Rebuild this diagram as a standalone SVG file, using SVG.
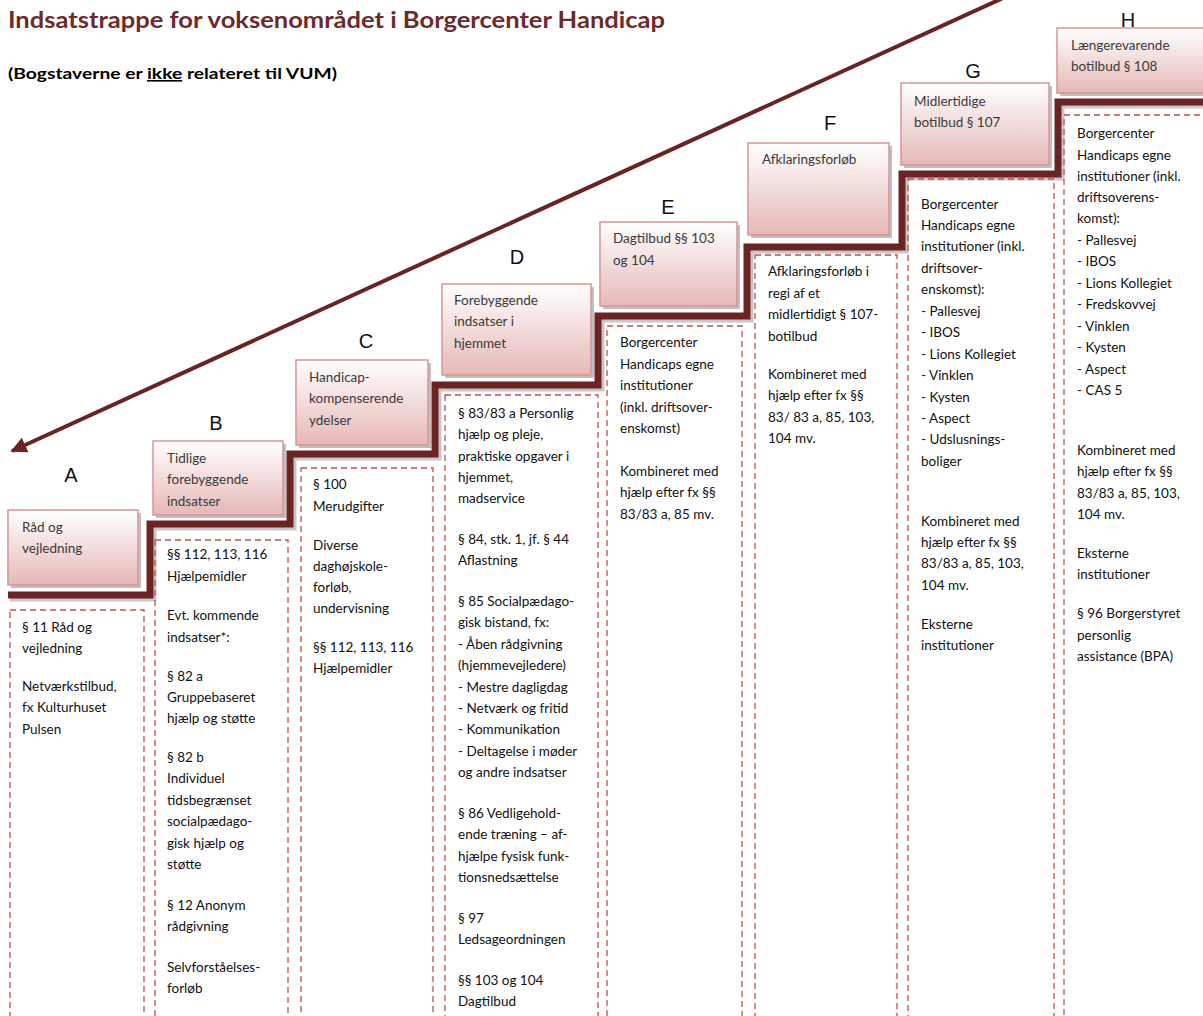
<svg xmlns="http://www.w3.org/2000/svg" width="1203" height="1016" viewBox="0 0 1203 1016">
<defs>
<linearGradient id="pink" x1="0" y1="0" x2="0" y2="1">
<stop offset="0" stop-color="#FFFFFF"/>
<stop offset="1" stop-color="#E5B8B7"/>
</linearGradient>
<marker id="arrow" viewBox="0 0 10 10" refX="9" refY="5" markerWidth="4.5" markerHeight="4" orient="auto" markerUnits="strokeWidth">
<path d="M0,0 L10,5 L0,10 Z" fill="#6B2222"/>
</marker>
<style>
.lbl{fill:url(#pink);stroke:#D99594;stroke-width:1.5}
.shadow{fill:#8c8c8c;opacity:0.55}
.det{fill:none;stroke:#C0504D;stroke-width:1.3;stroke-dasharray:6 4}
.t{font-family:Lato,"Open Sans",sans-serif;font-size:13.5px;fill:#111}
.lt{font-family:Lato,"Open Sans",sans-serif;font-size:13.5px;fill:#3a3a3a}
.letter{font-family:"Liberation Sans",Arial,sans-serif;font-size:20px;fill:#111;text-anchor:middle}
.stair{fill:none;stroke:#6B2323;stroke-width:7;stroke-linejoin:miter}
.stairsh{fill:none;stroke:#999;stroke-width:7;opacity:0.55}
</style>
</defs>
<rect width="1203" height="1016" fill="#fff"/>

<g id="title">
<text x="8" y="28" font-family="Lato,'Open Sans',sans-serif" font-size="22" font-weight="bold" fill="#70292A" textLength="657" lengthAdjust="spacingAndGlyphs">Indsatstrappe for voksenområdet i Borgercenter Handicap</text>
<text x="8" y="79" font-family="Lato,'Open Sans',sans-serif" font-size="16" font-weight="bold" fill="#000" textLength="329" lengthAdjust="spacingAndGlyphs">(Bogstaverne er <tspan text-decoration="underline">ikke</tspan> relateret til VUM)</text>
</g>

<g id="connectors">
<polyline class="stairsh" points="10,598 153,598 153,527 293,527 293,457 438,457 438,388 601,388 601,319 750,319 750,250 905,250 905,177 1061,177 1061,105 1210,105"/>
<polyline class="stair" points="8,595 150,595 150,524 290,524 290,454 435,454 435,385 598,385 598,316 747,316 747,247 902,247 902,174 1058,174 1058,102 1210,102"/>
<line x1="1003" y1="-2" x2="12" y2="451" stroke="#6B2222" stroke-width="4" marker-end="url(#arrow)"/>
</g>

<g id="step-A">
<rect class="shadow" x="11" y="513" width="130" height="75"/>
<rect class="lbl" x="8" y="510" width="130" height="75"/>
<text class="letter" x="71" y="482">A</text>
<text class="lt"><tspan x="22" y="532">Råd og</tspan><tspan x="22" y="553">vejledning</tspan></text>
<rect class="det" x="10" y="610" width="134" height="430"/>
<text class="t"><tspan x="22" y="632">§ 11 Råd og</tspan><tspan x="22" y="653">vejledning</tspan><tspan x="22" y="691">Netværkstilbud,</tspan><tspan x="22" y="712">fx Kulturhuset</tspan><tspan x="22" y="734">Pulsen</tspan></text>
</g>

<g id="step-B">
<rect class="shadow" x="156" y="444" width="130" height="74"/>
<rect class="lbl" x="153" y="441" width="130" height="74"/>
<text class="letter" x="216" y="430">B</text>
<text class="lt"><tspan x="167" y="463">Tidlige</tspan><tspan x="167" y="484">forebyggende</tspan><tspan x="167" y="506">indsatser</tspan></text>
<rect class="det" x="155" y="540" width="133" height="500"/>
<text class="t"><tspan x="167" y="559">§§ 112, 113, 116</tspan><tspan x="167" y="581">Hjælpemidler</tspan><tspan x="167" y="620">Evt. kommende</tspan><tspan x="167" y="642">indsatser*:</tspan><tspan x="167" y="681">§ 82 a</tspan><tspan x="167" y="702">Gruppebaseret</tspan><tspan x="167" y="723">hjælp og støtte</tspan><tspan x="167" y="762">§ 82 b</tspan><tspan x="167" y="783">Individuel</tspan><tspan x="167" y="805">tidsbegrænset</tspan><tspan x="167" y="826">socialpædago-</tspan><tspan x="167" y="848">gisk hjælp og</tspan><tspan x="167" y="869">støtte</tspan><tspan x="167" y="910">§ 12 Anonym</tspan><tspan x="167" y="931">rådgivning</tspan><tspan x="167" y="972">Selvforståelses-</tspan><tspan x="167" y="993">forløb</tspan></text>
</g>

<g id="step-C">
<rect class="shadow" x="299" y="363" width="132" height="85"/>
<rect class="lbl" x="296" y="360" width="132" height="85"/>
<text class="letter" x="366" y="348">C</text>
<text class="lt"><tspan x="309" y="382">Handicap-</tspan><tspan x="309" y="403">kompenserende</tspan><tspan x="309" y="425">ydelser</tspan></text>
<rect class="det" x="301" y="468" width="132" height="570"/>
<text class="t"><tspan x="313" y="489">§ 100</tspan><tspan x="313" y="511">Merudgifter</tspan><tspan x="313" y="550">Diverse</tspan><tspan x="313" y="571">daghøjskole-</tspan><tspan x="313" y="592">forløb,</tspan><tspan x="313" y="613">undervisning</tspan><tspan x="313" y="652">§§ 112, 113, 116</tspan><tspan x="313" y="673">Hjælpemidler</tspan></text>
</g>

<g id="step-D">
<rect class="shadow" x="445" y="287" width="149" height="91"/>
<rect class="lbl" x="442" y="284" width="149" height="91"/>
<text class="letter" x="517" y="264">D</text>
<text class="lt"><tspan x="454" y="305">Forebyggende</tspan><tspan x="454" y="326">indsatser i</tspan><tspan x="454" y="348">hjemmet</tspan></text>
<rect class="det" x="445" y="395" width="153" height="650"/>
<text class="t"><tspan x="458" y="418">§ 83/83 a Personlig</tspan><tspan x="458" y="439">hjælp og pleje,</tspan><tspan x="458" y="461">praktiske opgaver i</tspan><tspan x="458" y="482">hjemmet,</tspan><tspan x="458" y="503">madservice</tspan><tspan x="458" y="544">§ 84, stk. 1, jf. § 44</tspan><tspan x="458" y="565">Aflastning</tspan><tspan x="458" y="606">§ 85 Socialpædago-</tspan><tspan x="458" y="627">gisk bistand, fx:</tspan><tspan x="458" y="649">- Åben rådgivning</tspan><tspan x="458" y="670">(hjemmevejledere)</tspan><tspan x="458" y="692">- Mestre dagligdag</tspan><tspan x="458" y="713">- Netværk og fritid</tspan><tspan x="458" y="734">- Kommunikation</tspan><tspan x="458" y="756">- Deltagelse i møder</tspan><tspan x="458" y="777">og andre indsatser</tspan><tspan x="458" y="818">§ 86 Vedligehold-</tspan><tspan x="458" y="839">ende træning – af-</tspan><tspan x="458" y="861">hjælpe fysisk funk-</tspan><tspan x="458" y="882">tionsnedsættelse</tspan><tspan x="458" y="923">§ 97</tspan><tspan x="458" y="944">Ledsageordningen</tspan><tspan x="458" y="985">§§ 103 og 104</tspan><tspan x="458" y="1006">Dagtilbud</tspan></text>
</g>

<g id="step-E">
<rect class="shadow" x="603" y="225" width="137" height="84"/>
<rect class="lbl" x="600" y="222" width="137" height="84"/>
<text class="letter" x="668" y="214">E</text>
<text class="lt"><tspan x="613" y="243">Dagtilbud §§ 103</tspan><tspan x="613" y="265">og 104</tspan></text>
<rect class="det" x="607" y="326" width="135" height="720"/>
<text class="t"><tspan x="620" y="347">Borgercenter</tspan><tspan x="620" y="369">Handicaps egne</tspan><tspan x="620" y="390">institutioner</tspan><tspan x="620" y="412">(inkl. driftsover-</tspan><tspan x="620" y="433">enskomst)</tspan><tspan x="620" y="476">Kombineret med</tspan><tspan x="620" y="497">hjælp efter fx §§</tspan><tspan x="620" y="519">83/83 a, 85 mv.</tspan></text>
</g>

<g id="step-F">
<rect class="shadow" x="751" y="146" width="141" height="92"/>
<rect class="lbl" x="748" y="143" width="141" height="92"/>
<text class="letter" x="830" y="130">F</text>
<text class="lt"><tspan x="762" y="164">Afklaringsforløb</tspan></text>
<rect class="det" x="755" y="255" width="142" height="790"/>
<text class="t"><tspan x="768" y="276">Afklaringsforløb i</tspan><tspan x="768" y="298">regi af et</tspan><tspan x="768" y="319">midlertidigt § 107-</tspan><tspan x="768" y="341">botilbud</tspan><tspan x="768" y="379">Kombineret med</tspan><tspan x="768" y="400">hjælp efter fx §§</tspan><tspan x="768" y="422">83/ 83 a, 85, 103,</tspan><tspan x="768" y="443">104 mv.</tspan></text>
</g>

<g id="step-G">
<rect class="shadow" x="904" y="86" width="148" height="82"/>
<rect class="lbl" x="901" y="83" width="148" height="82"/>
<text class="letter" x="973" y="78">G</text>
<text class="lt"><tspan x="914" y="106">Midlertidige</tspan><tspan x="914" y="127">botilbud § 107</tspan></text>
<rect class="det" x="908" y="179" width="146" height="870"/>
<text class="t"><tspan x="921" y="209">Borgercenter</tspan><tspan x="921" y="230">Handicaps egne</tspan><tspan x="921" y="251">institutioner (inkl.</tspan><tspan x="921" y="273">driftsover-</tspan><tspan x="921" y="294">enskomst):</tspan><tspan x="921" y="316">- Pallesvej</tspan><tspan x="921" y="337">- IBOS</tspan><tspan x="921" y="359">- Lions Kollegiet</tspan><tspan x="921" y="380">- Vinklen</tspan><tspan x="921" y="402">- Kysten</tspan><tspan x="921" y="423">- Aspect</tspan><tspan x="921" y="444">- Udslusnings-</tspan><tspan x="921" y="466">boliger</tspan><tspan x="921" y="526">Kombineret med</tspan><tspan x="921" y="547">hjælp efter fx §§</tspan><tspan x="921" y="568">83/83 a, 85, 103,</tspan><tspan x="921" y="590">104 mv.</tspan><tspan x="921" y="629">Eksterne</tspan><tspan x="921" y="650">institutioner</tspan></text>
</g>

<g id="step-H">
<rect class="shadow" x="1060" y="31" width="150" height="65"/>
<rect class="lbl" x="1057" y="28" width="150" height="65"/>
<text class="letter" x="1128" y="27">H</text>
<text class="lt"><tspan x="1071" y="50">Længerevarende</tspan><tspan x="1071" y="71">botilbud § 108</tspan></text>
<rect class="det" x="1064" y="115" width="150" height="930"/>
<text class="t"><tspan x="1077" y="138">Borgercenter</tspan><tspan x="1077" y="160">Handicaps egne</tspan><tspan x="1077" y="181">institutioner (inkl.</tspan><tspan x="1077" y="202">driftsoverens-</tspan><tspan x="1077" y="223">komst):</tspan><tspan x="1077" y="245">- Pallesvej</tspan><tspan x="1077" y="266">- IBOS</tspan><tspan x="1077" y="288">- Lions Kollegiet</tspan><tspan x="1077" y="309">- Fredskovvej</tspan><tspan x="1077" y="331">- Vinklen</tspan><tspan x="1077" y="352">- Kysten</tspan><tspan x="1077" y="374">- Aspect</tspan><tspan x="1077" y="395">- CAS 5</tspan><tspan x="1077" y="455">Kombineret med</tspan><tspan x="1077" y="476">hjælp efter fx §§</tspan><tspan x="1077" y="498">83/83 a, 85, 103,</tspan><tspan x="1077" y="519">104 mv.</tspan><tspan x="1077" y="558">Eksterne</tspan><tspan x="1077" y="579">institutioner</tspan><tspan x="1077" y="618">§ 96 Borgerstyret</tspan><tspan x="1077" y="640">personlig</tspan><tspan x="1077" y="661">assistance (BPA)</tspan></text>
</g>
</svg>
